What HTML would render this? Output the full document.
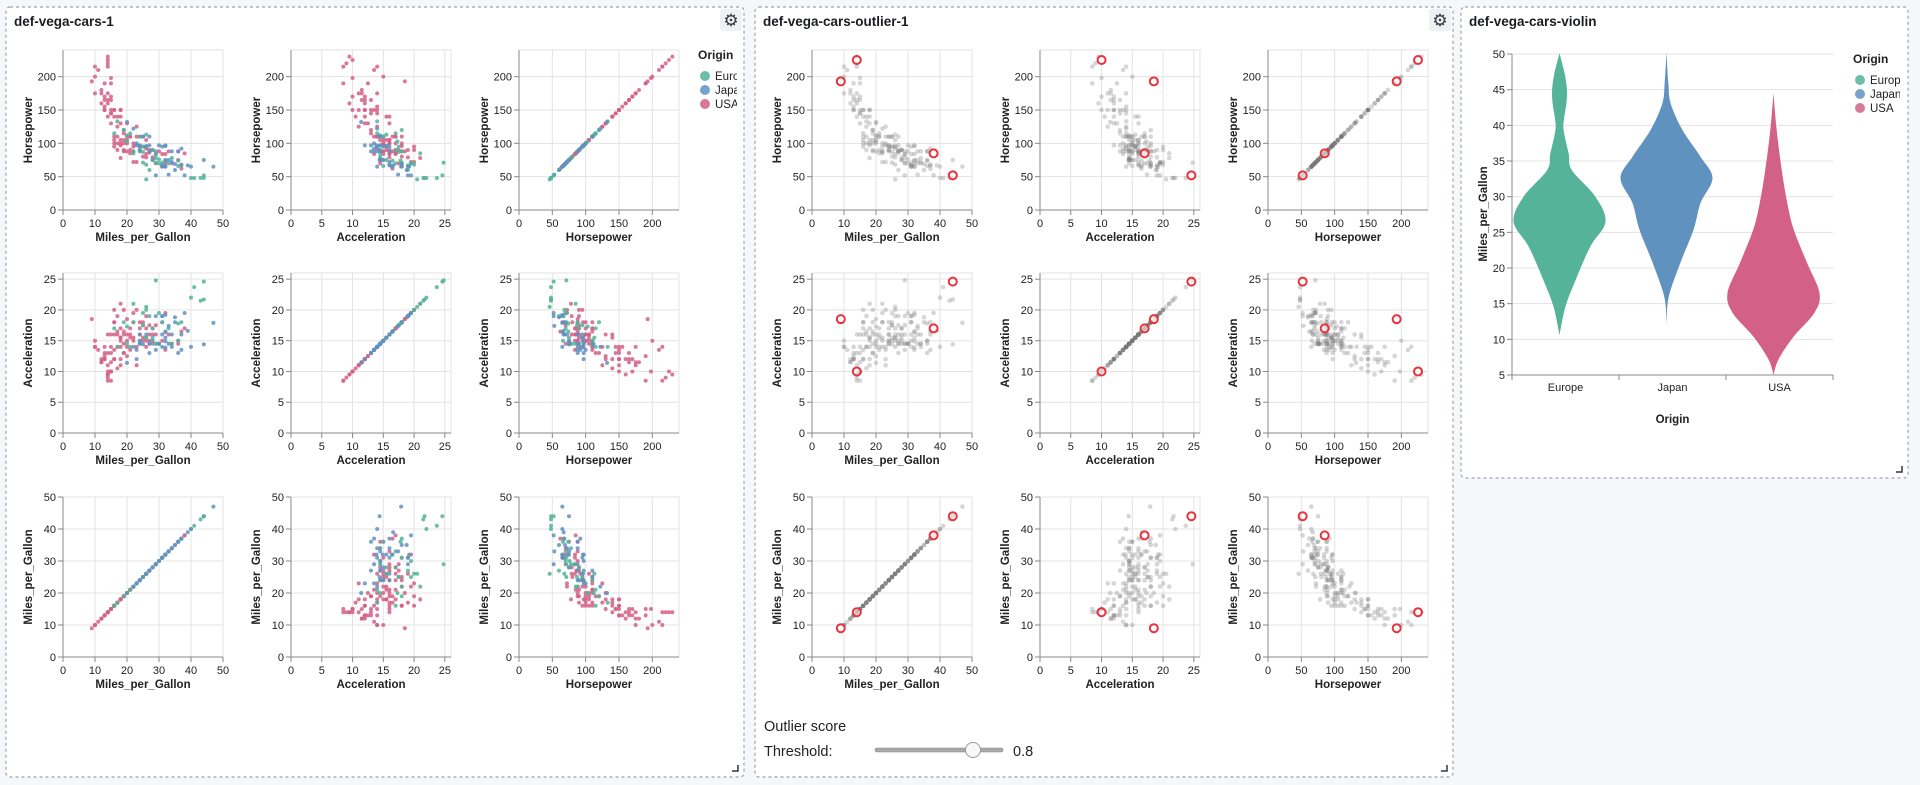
<!DOCTYPE html>
<html><head><meta charset="utf-8"><style>
html,body{margin:0;padding:0;background:#f6f7fa;width:1920px;height:785px;overflow:hidden}
svg{display:block;font-family:"Liberation Sans",Arial,sans-serif}
</style></head><body>
<svg id="root" width="1920" height="785" viewBox="0 0 1920 785"></svg>
<script>
// ---- data ----
const usaMpg=[18,15,18,16,17,15,14,14,15,15,14,15,10,10,11,21,22,18,21,10,13,12,13,13,12,13,12,14,13,14,14,16,17,19,18,20,19,16,15,16,17,18,22,20,25,24,26,27,28,26,27,30,32,28,34,31,36,37,23,19,20,17,16,18,15,21,23,24,26,25,19,18,22,20,23,27,24,29,17,25,16,19,20,28,33,31,26,21,13,14,15,16,18,19,22,29,32,36];
const usaHp=[130,165,150,150,140,198,220,215,190,170,160,150,215,200,210,90,95,105,85,175,165,175,150,170,180,190,160,165,155,230,175,100,100,88,100,100,105,105,145,150,110,97,100,105,80,110,79,90,90,105,86,88,84,79,70,84,75,62,125,120,130,125,140,140,145,110,110,90,92,95,90,78,72,88,72,88,96,70,90,110,95,115,110,90,88,65,84,110,150,140,130,110,150,100,88,84,70,88];
const usaAcc=[12,11.5,11,12,10.5,10,9,8.5,8.5,10,9.5,10,14,15,13.5,15.5,15.5,15.5,16,14,12,11.5,13,12,11.5,12.5,12,13,14,9.5,11,18,16,16.5,17,15,14.5,16,13,13.5,16.5,15,15,16,18,17,19,17.5,17,15,16,14.5,13.5,16,14.5,15,14.5,16.5,11,13,12.5,14,12,15.5,14,13.5,14,16,14,15.5,20,21,19.5,18.5,20,15,18,17.5,19,15,20,13,14,14.5,16,18,17,17,12,16,16,18,14,16,18,16,19.5,15];
const eurMpg=[26,25,24,25,26,28,30,29,31,27,20,22,24,26,43,44,41,36,37,31,30,29,32,34,36,40,17,16,19,20,28,25,29,22,21,33,26];
const eurHp=[46,87,90,95,113,90,70,78,67,60,112,88,110,96,48,48,48,74,67,71,76,71,74,78,66,48,133,115,120,103,75,71,83,85,115,70,68];
const eurAcc=[20.5,17.5,14.5,17.5,15.5,17,19.5,14.5,19,19,14.5,18,15,15.5,21.5,21.7,23.7,17.8,18,18,14.5,24.8,16.5,14.5,15,22,14,17,18,17.3,15.5,19.5,14.5,21,14,17,20];
const jpnMpg=[24,27,27,31,32,35,29,33,32,39,40,47,44,37,34,32,31,30,28,24,23,22,20,23,25,32,33,36,38,26,29,31,35,37,34,27,32,24];
const jpnHp=[95,88,97,65,65,69,52,53,65,67,65,65,75,68,72,75,95,97,75,97,97,122,132,100,110,96,75,88,52,95,88,67,60,92,88,110,97,88];
const jpnAcc=[15,14.5,13,19,16.4,18,19,17.4,19.2,16.6,14,17.9,14.4,16,16,14.9,14,14.5,15,14.5,12,14,11.4,13.5,14.4,15.5,14.5,13,19.5,16,13.5,16,18.8,13.5,14,14.5,13.9,16];
const outMpg=[9,14,38,44];
const outHp=[193,225,85,52];
const outAcc=[18.5,10,17,24.6];
const outOrigin=["USA","USA","USA","Europe"];
const mpgTicks=[0,10,20,30,40,50];
const hpTicks=[0,50,100,150,200];
const accTicks=[0,5,10,15,20,25];
const origins=["Europe","Japan","USA"];
const eurVioMpg=[50.1,47.3,45,43.1,41,39.3,36,33.7,30,26.5,23,18.3,14.6,10.6];
const eurVioDens=[0,0.11,0.16,0.15,0.1,0.09,0.2,0.27,0.78,1.0,0.67,0.35,0.13,0];
const jpnVioMpg=[50.2,46,43.1,39.3,35.6,32.6,29.1,25.4,20.7,16,12.3];
const jpnVioDens=[0,0.04,0.09,0.35,0.74,1.0,0.74,0.59,0.3,0.05,0];
const usaVioMpg=[44.5,39.3,33.7,29.1,25.4,20.7,16.5,13.7,10.4,7.2,5];
const usaVioDens=[0,0.07,0.18,0.3,0.44,0.73,1.0,0.89,0.44,0.11,0];
const vioTicks=[5,10,15,20,25,30,35,40,45,50];
const vioMin=5, vioMax=50;
// ---- rendering ----
const NS="http://www.w3.org/2000/svg";
const root=document.getElementById('root');
function el(tag,attrs,parent,text){const e=document.createElementNS(NS,tag);for(const k in attrs)e.setAttribute(k,attrs[k]);if(text!==undefined)e.textContent=text;(parent||root).appendChild(e);return e;}
const COL={Europe:"#54b399",Japan:"#6092c0",USA:"#d36086"};
const fields={
 mpg:{max:50,ticks:mpgTicks,title:"Miles_per_Gallon",get:()=>({USA:usaMpg,Europe:eurMpg,Japan:jpnMpg,out:outMpg})},
 hp:{max:240,ticks:hpTicks,title:"Horsepower",get:()=>({USA:usaHp,Europe:eurHp,Japan:jpnHp,out:outHp})},
 acc:{max:26,ticks:accTicks,title:"Acceleration",get:()=>({USA:usaAcc,Europe:eurAcc,Japan:jpnAcc,out:outAcc})}
};
// panels
function panel(x,y,w,h,title,name,gear){
 const g=el('g',{});
 
 
 el('rect',{x:x,y:y,width:w,height:h,rx:4,fill:'#fff',stroke:'#9ea0b4','stroke-width':1.2,'stroke-dasharray':'3,3'},g);
 const t=el('text',{x:x+8,y:y+19,'font-size':13.5,'font-weight':'bold',fill:'#1a1c21'},g,title);
 
 
 if(gear){
  const gb=el('g',{},g);
  
  
  el('rect',{x:x+w-24,y:y+2,width:22,height:22,rx:3,fill:'#eef0f4'},gb);
  el('text',{x:x+w-13,y:y+19,'font-size':17,'text-anchor':'middle',fill:'#343741'},gb,'⚙');
 }
 const rc=el('path',{d:`M${x+w-12} ${y+h-6}h6v-6`,fill:'none',stroke:'#343741','stroke-width':1.5},g);
 
 
 return g;
}
panel(6,7,738,770,'def-vega-cars-1','panel-cars-1',true);
panel(755,7,698,770,'def-vega-cars-outlier-1','panel-cars-outlier',true);
panel(1461,7,447,471,'def-vega-cars-violin','panel-cars-violin',false);

function scatter(px,py,xf,yf,mode,name){
 const X=fields[xf],Y=fields[yf],W=160,H=160;
 const g=el('g',{});
 
 
 const sx=v=>px+v/X.max*W, sy=v=>py+H-v/Y.max*H;
 el('rect',{x:px,y:py,width:W,height:H,fill:'none',stroke:'#e3e3e3'},g);
 X.ticks.forEach(t=>{el('line',{x1:sx(t),x2:sx(t),y1:py,y2:py+H,stroke:'#e3e3e3'},g);
  el('line',{x1:sx(t),x2:sx(t),y1:py+H,y2:py+H+5,stroke:'#888'},g);
  const l=el('text',{x:sx(t),y:py+H+17,'font-size':11,'text-anchor':'middle',fill:'#222'},g,t);
  
  });
 Y.ticks.forEach(t=>{el('line',{x1:px,x2:px+W,y1:sy(t),y2:sy(t),stroke:'#e3e3e3'},g);
  el('line',{x1:px-5,x2:px,y1:sy(t),y2:sy(t),stroke:'#888'},g);
  const l=el('text',{x:px-7,y:sy(t)+4,'font-size':11,'text-anchor':'end',fill:'#222'},g,t);
  
  });
 el('line',{x1:px,x2:px,y1:py,y2:py+H,stroke:'#888'},g);
 el('line',{x1:px,x2:px+W,y1:py+H,y2:py+H,stroke:'#888'},g);
 const xt=el('text',{x:px+W/2,y:py+H+31,'font-size':11.5,'font-weight':'bold','text-anchor':'middle',fill:'#222'},g,X.title);
 
 
 const yt=el('text',{x:0,y:0,'font-size':11.5,'font-weight':'bold','text-anchor':'middle',fill:'#222',transform:`translate(${px-31},${py+H/2}) rotate(-90)`},g,Y.title);
 
 
 const xs=X.get(),ys=Y.get();
 ['USA','Europe','Japan'].forEach(o=>{
  const n=Math.min(xs[o].length,ys[o].length);
  for(let i=0;i<n;i++){
   const c=el('circle',{cx:sx(xs[o][i]),cy:sy(ys[o][i]),r:mode==='color'?2:2.3,fill:mode==='color'?COL[o]:'#777','fill-opacity':mode==='color'?0.85:0.3},g);
   
   
  }
 });
 for(let i=0;i<xs.out.length;i++){
  if(mode==='color'){
   const c=el('circle',{cx:sx(xs.out[i]),cy:sy(ys.out[i]),r:2,fill:COL[outOrigin[i]],'fill-opacity':0.85},g);
   
   
  } else {
   const c=el('circle',{cx:sx(xs.out[i]),cy:sy(ys.out[i]),r:4,fill:'#fff','fill-opacity':0.5,stroke:'#e8323c','stroke-width':2},g);
   
   
  }
 }
}
const rowsF=['hp','acc','mpg'], colsF=['mpg','acc','hp'];
const rowY=[50,273,497], colX1=[63,291,519], colX2=[812,1040,1268];
rowsF.forEach((rf,ri)=>colsF.forEach((cf,ci)=>{
 scatter(colX1[ci],rowY[ri],cf,rf,'color',`scatter-${rf}-vs-${cf}`);
 scatter(colX2[ci],rowY[ri],cf,rf,'gray',`outlier-scatter-${rf}-vs-${cf}`);
}));
// legend panel 1
function legend(x,y,clipW,name){
 const g=el('g',{});
 
 
 const cid='clip'+name;
 const cp=el('clipPath',{id:cid},g);el('rect',{x:x-10,y:y-20,width:clipW,height:80},cp);
 const inner=el('g',{'clip-path':`url(#${cid})`},g);
 el('text',{x:x,y:y,'font-size':12,'font-weight':'bold',fill:'#222'},inner,'Origin');
 origins.forEach((o,i)=>{
  const e=el('g',{},inner);
  
  
  el('circle',{cx:x+7,cy:y+17+i*14,r:5,fill:COL[o],'fill-opacity':0.85},e);
  el('text',{x:x+17,y:y+21+i*14,'font-size':11.5,fill:'#222'},e,o);
 });
}
legend(698,59,49,'legend-origin-1');
legend(1853,63,57,'legend-origin-violin');
// slider
(function(){
 const g=el('g',{});
 
 
 el('text',{x:764,y:731,'font-size':14.5,fill:'#222'},g,'Outlier score');
 el('text',{x:764,y:756,'font-size':14.5,fill:'#222'},g,'Threshold:');
 const s=el('g',{},g);
 
 
 el('rect',{x:875,y:748,width:128,height:4,rx:2,fill:'#a8a8a8',stroke:'#888','stroke-width':0.6},s);
 el('circle',{cx:973,cy:750,r:7.5,fill:'#f8f8f8',stroke:'#999','stroke-width':1},s);
 el('text',{x:1013,y:756,'font-size':14.5,fill:'#222'},g,'0.8');
})();
// violin
(function(){
 const g=el('g',{});
 
 
 const x0=1512,x1=1833,yTop=54,yBot=375,bw=(x1-x0)/3;
 const sy=v=>yBot-(v-vioMin)/(vioMax-vioMin)*(yBot-yTop);
 vioTicks.forEach(t=>{
  el('line',{x1:x0,x2:x1,y1:sy(t),y2:sy(t),stroke:'#e3e3e3'},g);
  el('line',{x1:x0-5,x2:x0,y1:sy(t),y2:sy(t),stroke:'#888'},g);
  const l=el('text',{x:x0-7,y:sy(t)+4,'font-size':11,'text-anchor':'end',fill:'#222'},g,t);
  
  
 });
 el('line',{x1:x0,x2:x0,y1:yTop,y2:yBot,stroke:'#888'},g);
 el('line',{x1:x0,x2:x1,y1:yBot,y2:yBot,stroke:'#888'},g);
 for(let i=0;i<=3;i++)el('line',{x1:x0+i*bw,x2:x0+i*bw,y1:yBot,y2:yBot+5,stroke:'#888'},g);
 const data={Europe:[eurVioMpg,eurVioDens],Japan:[jpnVioMpg,jpnVioDens],USA:[usaVioMpg,usaVioDens]};
 function cr(pts){let d='';for(let i=0;i<pts.length-1;i++){const p0=pts[Math.max(i-1,0)],p1=pts[i],p2=pts[i+1],p3=pts[Math.min(i+2,pts.length-1)];
  const c1=[p1[0]+(p2[0]-p0[0])/6,p1[1]+(p2[1]-p0[1])/6],c2=[p2[0]-(p3[0]-p1[0])/6,p2[1]-(p3[1]-p1[1])/6];
  d+=`C${c1[0].toFixed(1)} ${c1[1].toFixed(1)} ${c2[0].toFixed(1)} ${c2[1].toFixed(1)} ${p2[0].toFixed(1)} ${p2[1].toFixed(1)}`;}return d;}
 origins.forEach((o,i)=>{
  const cx=x0+bw*(i+0.5)-6,[m,dn]=data[o];
  const right=m.map((v,k)=>[cx+dn[k]*46,sy(v)]);
  const left=m.map((v,k)=>[cx-dn[k]*46,sy(v)]).reverse();
  const d=`M${right[0][0]} ${right[0][1]}`+cr(right)+`L${left[0][0]} ${left[0][1]}`+cr(left)+'Z';
  const p=el('path',{d:d,fill:COL[o]},g);
  
  
  const l=el('text',{x:x0+bw*(i+0.5),y:yBot+16,'font-size':11,'text-anchor':'middle',fill:'#222'},g,o);
  
  
 });
 const xt=el('text',{x:(x0+x1)/2,y:423,'font-size':11.5,'font-weight':'bold','text-anchor':'middle',fill:'#222'},g,'Origin');
 
 
 const yt=el('text',{x:0,y:0,'font-size':11.5,'font-weight':'bold','text-anchor':'middle',fill:'#222',transform:`translate(1487,214) rotate(-90)`},g,'Miles_per_Gallon');
 
 
})();
</script>
</body></html>
